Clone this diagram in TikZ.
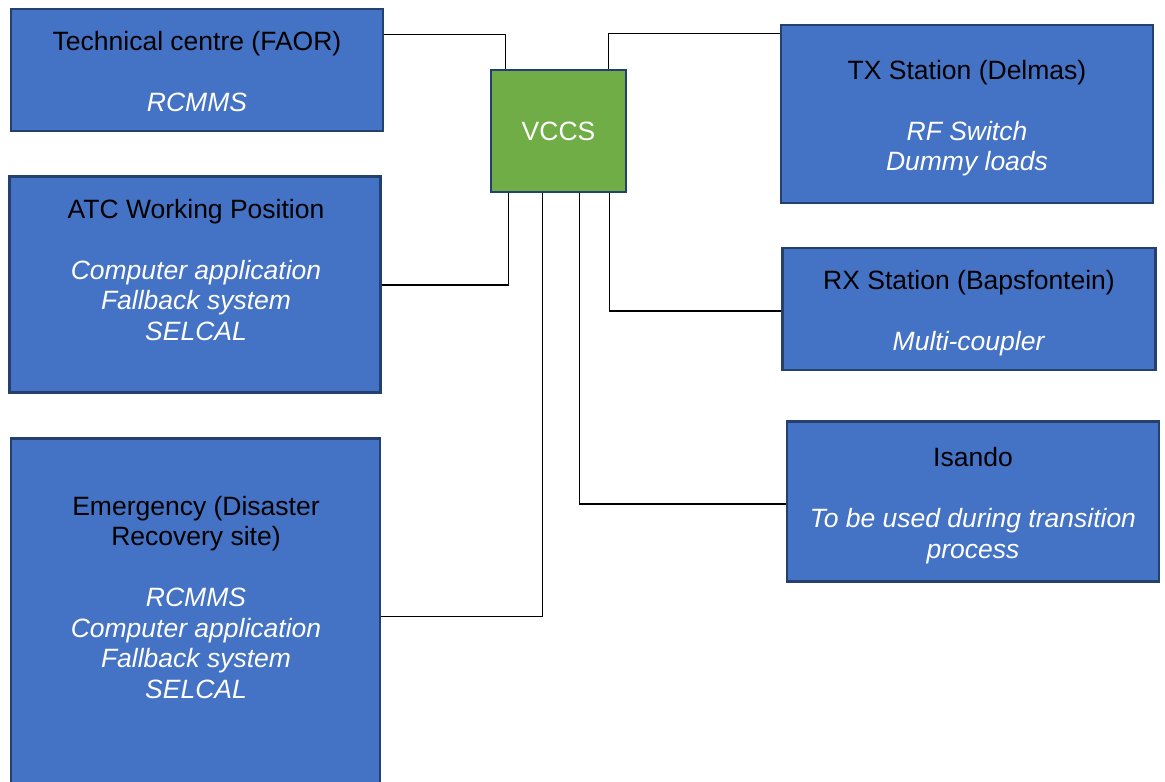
\documentclass[tikz,border=0pt]{standalone}
\usepackage{fontspec}
\setmainfont{Liberation Sans}
\definecolor{boxblue}{HTML}{4472C4}
\definecolor{boxedge}{HTML}{24406F}
\definecolor{hubgreen}{HTML}{70AD47}
\tikzset{
  unitbox/.style={draw=boxedge, line width=2.6pt, rectangle, inner sep=0pt},
  sitebox/.style={unitbox, fill=boxblue},
  hubbox/.style={unitbox, fill=hubgreen, text=white,
    font=\fontsize{26.5}{30.5}\selectfont},
  boxtext/.style={align=center, inner sep=0pt, text=black,
    font=\fontsize{26.5}{30.5}\selectfont},
  link/.style={draw=black, line width=1.3pt}
}
\newcommand{\itemtext}[1]{\textcolor{white}{\textit{#1}}}
\begin{document}
\begin{tikzpicture}[x=1pt,y=-1pt]
\useasboundingbox (0,0) rectangle (1165,782);
\clip (0,0) rectangle (1165,782);

% site boxes
\node[sitebox, minimum width=372pt, minimum height=122pt] (tc)   at (197,70) {};
\node[sitebox, minimum width=371pt, minimum height=216pt] (atc)  at (194.7,284.5) {};
\node[sitebox, minimum width=369pt, minimum height=400pt] (emg)  at (195.5,638.5) {};
\node[sitebox, minimum width=372pt, minimum height=178pt] (tx)   at (967,114) {};
\node[sitebox, minimum width=373pt, minimum height=122pt] (rx)   at (969.2,309) {};
\node[sitebox, minimum width=372pt, minimum height=160pt] (isa)  at (972.8,501.7) {};
\node[hubbox,  minimum width=135pt, minimum height=122pt] (vccs) at (558.5,131) {VCCS};

% box texts
\node[boxtext] (tcT)  at (197,71.5)  {Technical centre (FAOR)\\[30.5pt]\itemtext{RCMMS}};
\node[boxtext] (atcT) at (196,270)   {ATC Working Position\\[30.5pt]\itemtext{Computer application}\\\itemtext{Fallback system}\\\itemtext{SELCAL}};
\node[boxtext] (emgT) at (196,597.5) {Emergency (Disaster\\Recovery site)\\[30.5pt]\itemtext{RCMMS}\\\itemtext{Computer application}\\\itemtext{Fallback system}\\\itemtext{SELCAL}};
\node[boxtext] (txT)  at (967,118)   {TX Station (Delmas)\\[30.5pt]\itemtext{RF Switch}\\\itemtext{Dummy loads}};
\node[boxtext] (rxT)  at (969,313.5) {RX Station (Bapsfontein)\\[30.5pt]\itemtext{Multi-coupler}};
\node[boxtext] (isaT) at (973,505.5) {Isando\\[30.5pt]\itemtext{To be used during transition}\\\itemtext{process}};

% connectors from the VCCS to every site
\draw[link] (tc.east |- 0,34.5) -| (vccs.north -| 505.5,0);
\draw[link] (vccs.north -| 608.3,0) |- (tx.west |- 0,33.7);
\draw[link] (vccs.south -| 508.3,0) |- (atc.east |- 0,285);
\draw[link] (vccs.south -| 542.7,0) |- (emg.east |- 0,616.7);
\draw[link] (vccs.south -| 579.3,0) |- (isa.west |- 0,504);
\draw[link] (vccs.south -| 609.3,0) |- (rx.west |- 0,311);
\end{tikzpicture}
\end{document}
